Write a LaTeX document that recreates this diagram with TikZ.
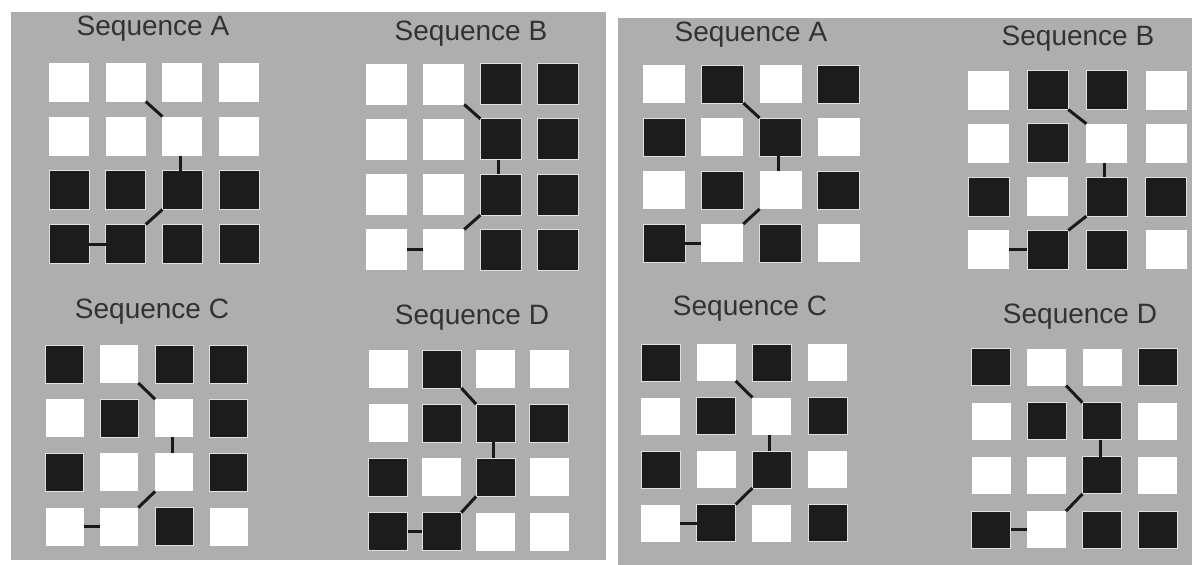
\documentclass[tikz,border=0pt]{standalone}
\usepackage{fontspec}
\setmainfont{Liberation Sans}
\definecolor{panelgray}{RGB}{174,174,174}
\definecolor{sqblack}{RGB}{28,28,28}
\definecolor{titlecol}{RGB}{50,50,50}
\tikzset{
  panel/.style={fill=panelgray, draw=none},
  blk/.style={rectangle, fill=sqblack, draw=black!12, line width=1pt, outer sep=0pt, inner sep=0pt},
  wht/.style={rectangle, fill=white, draw=none, outer sep=0pt, inner sep=0pt},
  conn/.style={draw=black!90, line width=3pt},
  title/.style={font=\fontsize{28}{30}\selectfont, text=titlecol, inner sep=0pt}
}
% #1 name, #2 x of first centre, #3 y of first centre, #4 pitch x, #5 pitch y, #6 width, #7 height, #8 pattern
\newcommand\seqgrid[8]{%
  \foreach \v [count=\i from 0] in {#8} {
    \pgfmathtruncatemacro\rr{int(\i/4)+1}
    \pgfmathtruncatemacro\cc{mod(\i,4)+1}
    \ifnum\v=1 \def\sqsty{blk}\else\def\sqsty{wht}\fi
    \node[\sqsty, minimum width=#6, minimum height=#7] (#1-\rr-\cc)
      at ({#2+(\cc-1)*#4},{#3+(\rr-1)*#5}) {};
  }
  \draw[conn] (#1-1-2.south east) -- (#1-2-3.north west);
  \draw[conn] ([xshift=-2pt]#1-2-3.south) -- ([xshift=-2pt]#1-3-3.north);
  \draw[conn] (#1-3-3.south west) -- (#1-4-2.north east);
  \draw[conn] (#1-4-1.east) -- (#1-4-2.west);
}
\begin{document}
\begin{tikzpicture}[x=1pt, y=-1pt]
  \useasboundingbox (0,0) rectangle (1192,565);
  \fill[white] (0,0) rectangle (1192,565);
  \fill[panel] (11,12) rectangle (606,560);
  \fill[panel] (618,18) rectangle (1192,565);

  % left panel
  \node[title] (tLA) at (153,29) {Sequence A};
  \seqgrid{LA}{69}{82}{56.7}{54}{40}{39}{0,0,0,0, 0,0,0,0, 1,1,1,1, 1,1,1,1}
  \node[title] (tLB) at (471,34) {Sequence B};
  \seqgrid{LB}{386.5}{84}{57.2}{55.3}{41}{41}{0,0,1,1, 0,0,1,1, 0,0,1,1, 0,0,1,1}
  \node[title] (tLC) at (152,312) {Sequence C};
  \seqgrid{LC}{64.5}{364}{54.8}{54.2}{38}{38}{1,0,1,1, 0,1,0,1, 1,0,0,1, 0,0,1,0}
  \node[title] (tLD) at (472,318) {Sequence D};
  \seqgrid{LD}{388}{369}{53.8}{54.2}{39}{38}{0,1,0,0, 0,1,1,1, 1,0,1,0, 1,1,0,0}

  % right panel
  \node[title] (tRA) at (751,35) {Sequence A};
  \seqgrid{RA}{664}{84}{58.3}{53}{42}{38}{0,1,0,1, 1,0,1,0, 0,1,0,1, 1,0,1,0}
  \node[title] (tRB) at (1078,39) {Sequence B};
  \seqgrid{RB}{988.5}{90}{59.2}{53.3}{41}{39}{0,1,1,0, 0,1,0,0, 1,0,1,1, 0,1,1,0}
  \node[title] (tRC) at (750,309) {Sequence C};
  \seqgrid{RC}{660.5}{362.5}{55.7}{53.5}{39}{37}{1,0,1,0, 0,1,0,1, 1,0,1,0, 0,1,0,1}
  \node[title] (tRD) at (1080,317) {Sequence D};
  \seqgrid{RD}{991}{367}{55.5}{54.2}{39}{37}{1,0,0,1, 0,1,1,0, 0,0,1,0, 1,0,1,1}
\end{tikzpicture}
\end{document}
